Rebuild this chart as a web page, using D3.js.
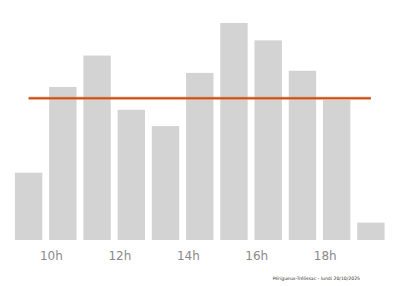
<!DOCTYPE html>
<html><head><meta charset="utf-8">
<script src="https://cdn.jsdelivr.net/npm/d3@7"></script>
<style>html,body{margin:0;padding:0;background:#fff;}</style>
</head><body>
<svg id="c" width="400" height="286"></svg>
<script>
const hours = ["9h","10h","11h","12h","13h","14h","15h","16h","17h","18h","19h"];
const values = [31, 70.5, 85, 60, 52.5, 77, 100, 92, 78, 64.5, 8];
const tickLabels = ["10h","12h","14h","16h","18h"];
const footer = "Périgueux-Trélissac - lundi 20/10/2025";

const svg = d3.select("#c");
const x = d3.scaleBand().domain(hours).range([11.5, 388]).paddingInner(0.2).paddingOuter(0.1);
const y = d3.scaleLinear().domain([0, 100]).range([240, 23]);

svg.append("g").selectAll("rect").data(hours).join("rect")
  .attr("x", d => x(d)).attr("width", x.bandwidth())
  .attr("y", (d,i) => y(values[i])).attr("height", (d,i) => y(0) - y(values[i]))
  .attr("fill", "#d3d3d3");

const avg = d3.mean(values);
svg.append("line")
  .attr("x1", x(hours[0]) + x.bandwidth()/2)
  .attr("x2", x(hours[hours.length-1]) + x.bandwidth()/2)
  .attr("y1", y(avg)).attr("y2", y(avg))
  .attr("stroke", "#f0a070").attr("stroke-width", 3.5).attr("opacity", 0.5);
svg.append("line")
  .attr("x1", x(hours[0]) + x.bandwidth()/2)
  .attr("x2", x(hours[hours.length-1]) + x.bandwidth()/2)
  .attr("y1", y(avg)).attr("y2", y(avg))
  .attr("stroke", "#c9501a").attr("stroke-width", 2);

svg.append("g").selectAll("text").data(tickLabels).join("text")
  .attr("x", d => x(d) + x.bandwidth()/2)
  .attr("y", 260)
  .attr("text-anchor", "end")
  .attr("font-family", "DejaVu Sans")
  .attr("font-size", 12)
  .attr("fill", "#8a8a8a")
  .text(d => d);

svg.append("text")
  .attr("x", 360).attr("y", 280)
  .attr("text-anchor", "end")
  .attr("font-family", "DejaVu Sans")
  .attr("font-size", 4.6)
  .attr("fill", "#333")
  .text(footer);
</script>
</body></html>
